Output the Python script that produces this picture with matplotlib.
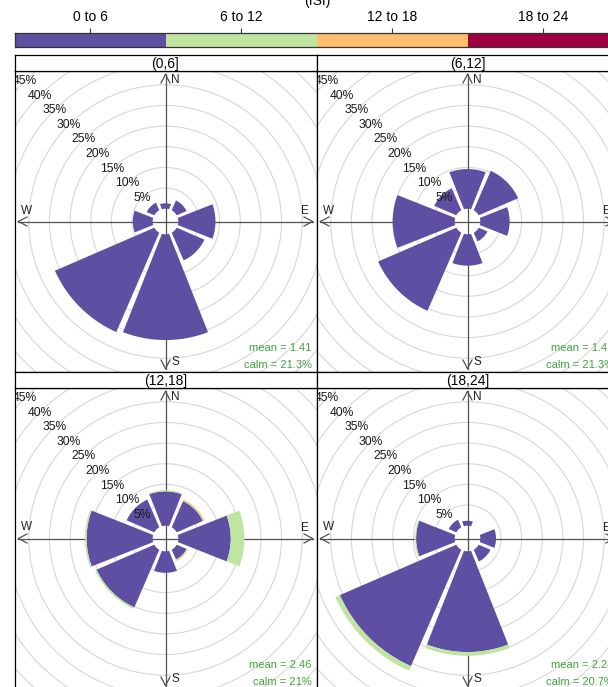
import numpy as np
import matplotlib.pyplot as plt
from matplotlib.patches import Polygon, Circle

plt.rcParams['font.family'] = ['Liberation Sans', 'DejaVu Sans']

# sectors, clockwise from north
directions = ['N', 'NE', 'E', 'SE', 'S', 'SW', 'W', 'NW']
dir_angles = [0, 45, 90, 135, 180, 225, 270, 315]

isi_bins = ['0 to 6', '6 to 12', '12 to 18', '18 to 24']
isi_colors = ['#5E4FA2', '#BFE5A0', '#FDBE6E', '#9E0142']

hour_panels = ['(0,6]', '(6,12]', '(12,18]', '(18,24]']
mean_isi = ['1.41', '1.47', '2.46', '2.24']
calm_pct = ['21.3%', '21.3%', '21%', '20.7%']

# frequency (%) by sector, one list per ISI bin and hour panel
h00_isi0 = [1.3, 2.6, 9.0, 7.3, 25.6, 26.2, 4.8, 2.0]
h06_isi0 = [9.6, 10.4, 7.1, 2.3, 7.6, 20.6, 15.0, 5.8]
h12_isi0 = [8.3, 6.9, 12.7, 2.6, 5.2, 15.2, 16.0, 7.3]
h12_isi1 = [0.3, 0.3, 3.3, 0.2, 0.0, 0.4, 0.4, 0.0]
h12_isi2 = [0.0, 0.15, 0.0, 0.15, 0.0, 0.0, 0.0, 0.0]
h18_isi0 = [1.2, 0.0, 3.8, 3.1, 24.4, 30.7, 9.35, 2.0]
h18_isi1 = [0.0, 0.0, 0.0, 0.0, 0.9, 1.2, 0.25, 0.0]

panel_data = [
    [h00_isi0],
    [h06_isi0],
    [h12_isi0, h12_isi1, h12_isi2],
    [h18_isi0, h18_isi1],
]

W, H = 608, 687
PX = 4.13      # pixels per percent
OFF = 3.1      # centre hole, in percent
ARM = 35.6     # length of the compass arrows
col_left = [14.5, 316.5]
row_top = [71, 388]
strip_top = [55, 372]
pw, ph = 302, 301

fig = plt.figure(figsize=(W / 100, H / 100), dpi=100)


def sector(ang, r0, r1, half_gap=0.3, dang=0.9):
    def half(r):
        return 22.5 - dang - np.degrees(np.arcsin(min(half_gap / r, 1)))
    t_out = np.radians(np.linspace(ang - half(r1), ang + half(r1), 40))
    t_in = np.radians(np.linspace(ang + half(r0), ang - half(r0), 15))
    xs = np.concatenate([r1 * np.sin(t_out), r0 * np.sin(t_in)])
    ys = np.concatenate([r1 * np.cos(t_out), r0 * np.cos(t_in)])
    return np.column_stack([xs, ys])


for i, name in enumerate(hour_panels):
    row, col = i // 2, i % 2
    left, top = col_left[col], row_top[row]
    ax = fig.add_axes([left / W, 1 - (top + ph) / H, pw / W, ph / H])
    ax.set_xlim(-pw / 2 / PX, pw / 2 / PX)
    ax.set_ylim(-ph / 2 / PX, ph / 2 / PX)
    ax.set_xticks([])
    ax.set_yticks([])
    for s in ax.spines.values():
        s.set_color('black')
        s.set_linewidth(0.9)

    # grid rings
    for k in range(1, 13):
        ax.add_patch(Circle((0, 0), OFF + 5 * k, fill=False, ec='#D7D7D7', lw=0.8, zorder=1))

    # compass cross with open arrow heads
    ax.plot([-ARM, ARM], [0, 0], color='#505050', lw=0.9, zorder=2)
    ax.plot([0, 0], [-ARM, ARM], color='#505050', lw=0.9, zorder=2)
    hl, hw = 8.5 / PX, 4.5 / PX
    for ux, uy in [(1, 0), (-1, 0), (0, 1), (0, -1)]:
        tx, ty = ux * ARM, uy * ARM
        for sgn in (1, -1):
            ax.plot([tx, tx - ux * hl + sgn * uy * hw], [ty, ty - uy * hl + sgn * ux * hw],
                    color='#505050', lw=0.9, zorder=2)
    kw = dict(textcoords='offset pixels', fontsize=8.5, va='center', color='#222222')
    ax.annotate('N', (0, ARM), xytext=(6, -6), ha='left', **kw)
    ax.annotate('S', (0, -ARM), xytext=(6, 6.5), ha='left', **kw)
    ax.annotate('W', (-ARM, 0), xytext=(8.5, 11), ha='center', **kw)
    ax.annotate('E', (ARM, 0), xytext=(-7.5, 10.5), ha='center', **kw)

    # stacked wedges
    for j, ang in enumerate(dir_angles):
        base = OFF
        for b, vals in enumerate(panel_data[i]):
            v = vals[j]
            if v <= 0:
                continue
            ax.add_patch(Polygon(sector(ang, base, base + v), closed=True,
                                 fc=isi_colors[b], ec='none', zorder=3))
            base += v

    # percentage labels along the NW diagonal
    for k in range(1, 11):
        r = OFF + 5 * k
        ax.text(-r * np.sin(np.pi / 4), r * np.cos(np.pi / 4), f'{5 * k}%',
                ha='center', va='center', fontsize=8.7, color='#1a1a1a',
                clip_on=True, zorder=5)

    ax.text(1 - 5 / pw, 24 / ph, f'mean = {mean_isi[i]}', transform=ax.transAxes,
            ha='right', va='center', fontsize=8, color='#3FA33F', zorder=6)
    ax.text(1 - 5 / pw, 7 / ph, f'calm = {calm_pct[i]}', transform=ax.transAxes,
            ha='right', va='center', fontsize=8, color='#3FA33F', zorder=6)

    # strip header
    sa = fig.add_axes([left / W, 1 - (strip_top[row] + 16) / H, pw / W, 16 / H])
    sa.set_xticks([])
    sa.set_yticks([])
    for s in sa.spines.values():
        s.set_color('black')
        s.set_linewidth(0.9)
    sa.text(0.5, 0.45, name, ha='center', va='center', fontsize=10, transform=sa.transAxes)

# colour key
ka = fig.add_axes([14.7 / W, 1 - 46.5 / H, (619 - 14.7) / W, 13.5 / H])
ka.bar(range(len(isi_bins)), 1, width=1, color=isi_colors)
ka.set_xlim(-0.5, len(isi_bins) - 0.5)
ka.set_ylim(0, 1)
ka.set_yticks([])
ka.xaxis.tick_top()
ka.set_xticks(range(len(isi_bins)))
ka.set_xticklabels(isi_bins, fontsize=10)
ka.tick_params(axis='x', length=3.5, width=0.8, color='#333333', pad=3)
for s in ka.spines.values():
    s.set_color('#333333')
    s.set_linewidth(0.9)
fig.text(317 / W, 1 - 1 / H, '(ISI)', ha='center', va='center', fontsize=10)

fig.savefig('out.png', dpi=100)
